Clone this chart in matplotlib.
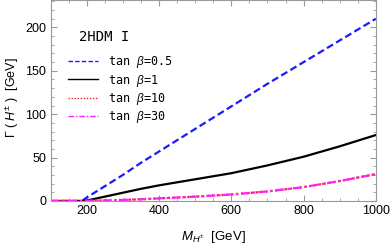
import matplotlib
matplotlib.use("Agg")
import matplotlib.pyplot as plt
from matplotlib.ticker import MultipleLocator
import numpy as np

plt.rcParams["mathtext.fontset"] = "custom"
plt.rcParams["mathtext.rm"] = "Liberation Sans"
plt.rcParams["mathtext.it"] = "Liberation Sans:italic"
plt.rcParams["font.family"] = "Liberation Sans"

m_h = [100, 150, 180, 190, 200, 250, 300, 350, 400, 500, 600, 700, 800, 900, 1000]
w_tb05 = [0, 0, 0, 1, 4, 17, 30, 44, 57, 83, 109, 135, 160, 185, 210]
w_tb1 = [0, 0, 0, 0, 0.5, 5, 9.5, 14, 18, 25, 32, 41, 51, 63, 76]
w_tb10 = [0, 0, 0, 0, 0.2, 0.6, 1.2, 2, 3, 5, 7.5, 11, 16, 23, 31]
w_tb30 = w_tb10

labels = [r"tan $\beta$=0.5", r"tan $\beta$=1", r"tan $\beta$=10", r"tan $\beta$=30"]

fig = plt.figure(figsize=(3.92, 2.46), dpi=100)
ax = fig.add_axes([0.129, 0.183, 0.830, 0.815])

ax.plot(m_h, w_tb05, color="#1a1aff", ls=(0, (3.2, 1.6)), lw=1.6, label=labels[0])
ax.plot(m_h, w_tb1, color="black", ls="-", lw=1.6, label=labels[1])
ax.plot(m_h, w_tb10, color="#ff2020", ls=(0, (1, 1.2)), lw=1.6, label=labels[2])
ax.plot(m_h, w_tb30, color="#ff20ff", ls=(0, (4, 1.4, 1, 1.4)), lw=1.6, label=labels[3])

ax.set_xlim(100, 1000)
ax.set_ylim(0, 231)
ax.xaxis.set_major_locator(MultipleLocator(200))
ax.xaxis.set_minor_locator(MultipleLocator(50))
ax.yaxis.set_major_locator(MultipleLocator(50))
ax.yaxis.set_minor_locator(MultipleLocator(10))
ax.tick_params(which="both", direction="in", top=True, right=True, color="#999999",
               labelsize=9, pad=3)
ax.tick_params(which="major", length=4, width=0.8)
ax.tick_params(which="minor", length=2.2, width=0.6)
for s in ax.spines.values():
    s.set_color("#999999")
    s.set_linewidth(0.8)

ax.set_xlabel(r"$M_{H^{\pm}}$  [GeV]", fontsize=9.5)
ax.xaxis.set_label_coords(0.5, -0.14)
ax.set_ylabel(r"$\Gamma$ ( $H^{\pm}$ )  [GeV]", fontsize=9)
ax.yaxis.set_label_coords(-0.092, 0.517)

ax.text(0.087, 0.80, "2HDM I", transform=ax.transAxes, family="DejaVu Sans Mono", fontsize=10)
leg = ax.legend(loc="upper left", bbox_to_anchor=(0.02, 0.785), frameon=False,
                prop={"family": "DejaVu Sans Mono", "size": 8.5}, handlelength=2.55,
                labelspacing=0.2, handletextpad=0.85)
for h in leg.get_lines():
    h.set_linewidth(1.0)

fig.savefig("out.png", dpi=100)
